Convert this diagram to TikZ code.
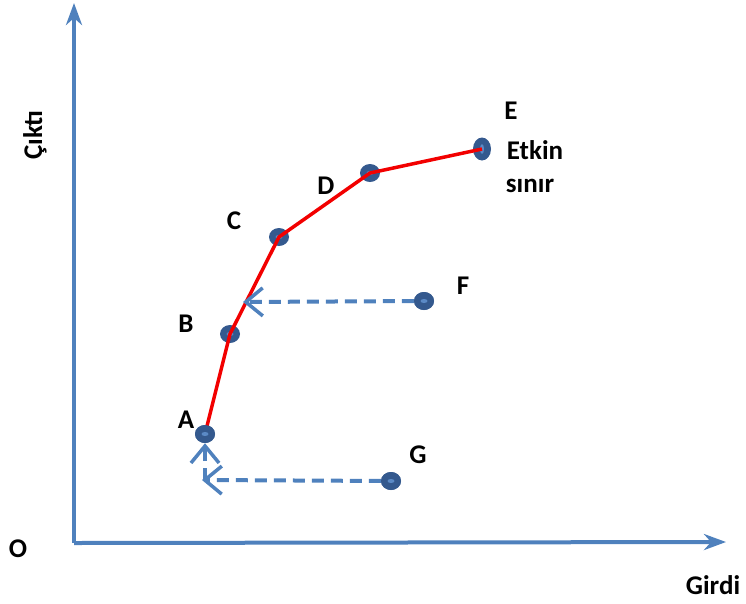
\documentclass[tikz,border=0pt]{standalone}
\usepackage{fontspec}
\setmainfont{Carlito}
\usetikzlibrary{arrows.meta,shapes.geometric}
\definecolor{axisblue}{HTML}{4F81BD}
\definecolor{dotblue}{HTML}{34598E}
\definecolor{dotlight}{HTML}{5B8AC6}
\definecolor{frontred}{HTML}{F20000}
\tikzset{
  axis/.style={draw=axisblue, line width=4pt, -{Stealth[length=22pt,width=16pt,inset=7pt]}},
  dasharrow/.style={draw=axisblue, line width=4pt, dash pattern=on 12pt off 7pt,
     -{Straight Barb[length=17pt,width=28pt,line width=3.5pt]}},
  dotnode/.style={ellipse, fill=dotblue, minimum width=20pt, minimum height=18pt, inner sep=0pt,
     path picture={\fill[dotlight] (path picture bounding box.center) ellipse (3.5pt and 2pt);}},
  lbl/.style={font=\bfseries\fontsize{27}{30}\selectfont, text=black, inner sep=0pt},
  frontier/.style={draw=frontred, line width=3.5pt, line join=round}
}
\begin{document}
\begin{tikzpicture}[x=1pt,y=-1pt]
\useasboundingbox (0,0) rectangle (746,603);
% axes
\coordinate (O) at (74,543);
\coordinate (ytop) at (74,3);
\coordinate (xend) at (726,542);
\draw[axis] (O) -- (ytop);
\draw[axis] (O) -- (xend);
% points
\node[dotnode] (A) at (205,434) {};
\node[dotnode] (B) at (230,334) {};
\node[dotnode] (C) at (279,237) {};
\node[dotnode] (D) at (370,173) {};
\node[dotnode, minimum width=18pt, minimum height=23pt,
  path picture={\fill[dotlight] (path picture bounding box.center) ellipse (2pt and 5pt);}] (E) at (482,149) {};
\node[dotnode] (F) at (424,301) {};
\node[dotnode] (G) at (391,481) {};
% frontier
\draw[frontier] (A.center) -- (B.center) -- (C.center) -- (D.center) -- (E.center);
\coordinate (Fp) at (243,302);
\coordinate (Gp) at (202,480);
\coordinate (Gv) at (205,480);
% dashed arrows
\draw[dasharrow] (F) -- (Fp);
\draw[dasharrow] (G) -- (Gp);
\draw[dasharrow] (Gv) -- (A);
% redraw dots on top
\node[dotnode] at (A) {};
\node[dotnode] at (F) {};
\node[dotnode] at (G) {};
% labels
\node[lbl] (lA) at (186,420) {A};
\node[lbl] (lB) at (186,324) {B};
\node[lbl] (lC) at (234,221) {C};
\node[lbl] (lD) at (326,186) {D};
\node[lbl] (lE) at (511,111) {E};
\node[lbl] (lEt) at (535,150) {Etkin};
\node[lbl] (lsn) at (530,186) {sınır};
\node[lbl] (lF) at (463,286) {F};
\node[lbl] (lG) at (418,455) {G};
\node[lbl] (lO) at (18,549) {O};
\node[lbl] (lGirdi) at (713,585) {Girdi};
\node[lbl, rotate=90] (lCikti) at (35,135) {Çıktı};
\end{tikzpicture}
\end{document}
